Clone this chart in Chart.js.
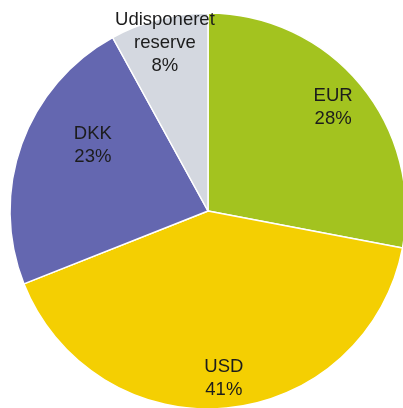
<!DOCTYPE html>
<html>
<head>
<meta charset="utf-8">
<script src="https://cdn.jsdelivr.net/npm/chart.js@4/dist/chart.umd.min.js"></script>
<style>
    html, body { margin: 0; padding: 0; background: #ffffff; overflow: hidden; }
    #wrap { position: absolute; left: 0; top: 0; width: 416px; height: 422px; }
</style>
</head>
<body>
<div id="wrap"><canvas id="currencyPieChart"></canvas></div>
<script>
// data
const labels = [['EUR'], ['USD'], ['DKK'], ['Udisponeret', 'reserve']];
const shares = [28, 41, 23, 8];
const colors = ['#a3c31f', '#f4cf02', '#6467b0', '#d4d8e0'];

// label placement: fraction of radius, angle tweak in degrees
const labelRadius = [0.82, 0.85, 0.67, 0.875];
const labelTurn = [0, 0, 10, 0];

const sliceLabels = {
    id: 'sliceLabels',
    afterDatasetsDraw: (chart) => {
        const ctx = chart.ctx;
        const meta = chart.getDatasetMeta(0);
        ctx.save();
        ctx.font = '18.5px "Liberation Sans", Arial, sans-serif';
        ctx.fillStyle = '#1c1c1c';
        ctx.textAlign = 'center';
        ctx.textBaseline = 'middle';
        meta.data.forEach((arc, i) => {
            const p = arc.getProps(['x', 'y', 'startAngle', 'endAngle', 'outerRadius'], true);
            const mid = (p.startAngle + p.endAngle) / 2 + labelTurn[i] * Math.PI / 180;
            const r = p.outerRadius * labelRadius[i];
            const cx = p.x + Math.cos(mid) * r;
            const cy = p.y + Math.sin(mid) * r;
            const lines = labels[i].concat([shares[i] + '%']);
            const lh = 23;
            lines.forEach((t, j) => {
                ctx.fillText(t, cx, cy + (j - (lines.length - 1) / 2) * lh);
            });
        });
        ctx.restore();
    }
};

const canvas = document.getElementById('currencyPieChart');
const myPieChart = new Chart(canvas.getContext('2d'), {
    type: 'pie',
    data: {
        labels: labels.map(l => l.join(' ')),
        datasets: [{
            data: shares,
            backgroundColor: colors,
            borderColor: '#ffffff',
            borderWidth: 1.5
        }]
    },
    options: {
        responsive: true,
        maintainAspectRatio: false,
        animation: false,
        radius: 198,
        layout: { padding: 0 },
        plugins: {
            legend: { display: false },
            title: { display: false },
            tooltip: { enabled: false }
        }
    },
    plugins: [sliceLabels]
});
</script>
</body>
</html>
